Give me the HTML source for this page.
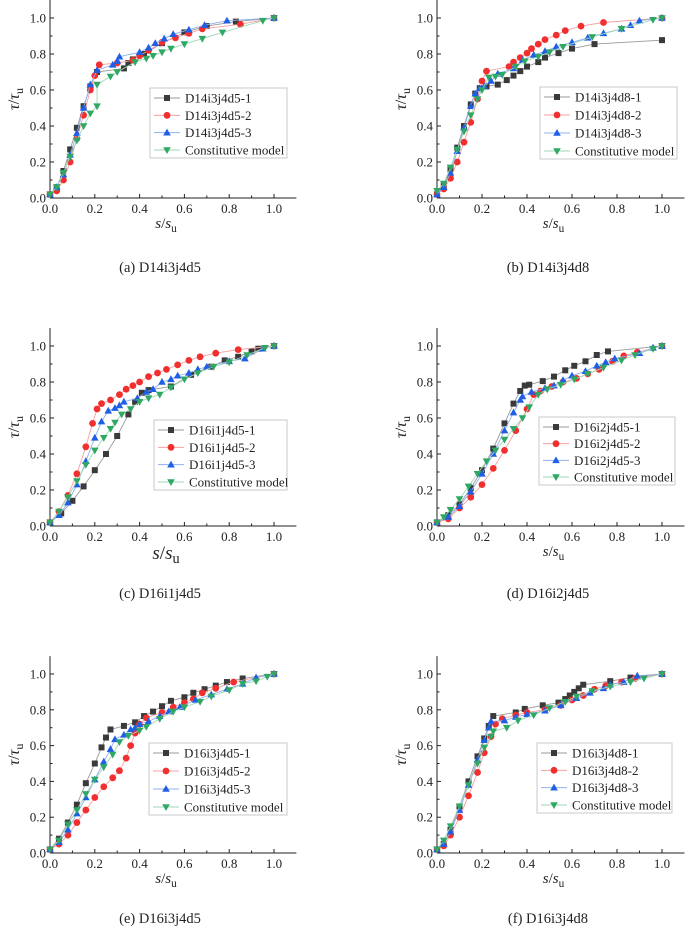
<!DOCTYPE html>
<html><head><meta charset="utf-8">
<style>
html,body{margin:0;padding:0;background:#fff;}
svg{display:block;}
svg text{font-family:"Liberation Serif","DejaVu Serif","Times New Roman",serif;}
</style></head>
<body>
<svg id="fig" width="685" height="935" viewBox="0 0 685 935" font-family="Liberation Serif, DejaVu Serif, serif"></svg>
<script>
// Panel (a)
const a1x=[0,0.03,0.06,0.09,0.12,0.15,0.18,0.21,0.33,0.35,0.37,0.42,0.5,0.6,0.7,0.83,1];
const a1y=[0.02,0.06,0.15,0.27,0.39,0.51,0.62,0.70,0.72,0.75,0.77,0.80,0.86,0.92,0.955,0.98,1];
const a2x=[0,0.03,0.06,0.09,0.12,0.15,0.18,0.2,0.22,0.3,0.37,0.4,0.44,0.5,0.56,0.62,0.68,0.85,1];
const a2y=[0.02,0.04,0.10,0.2,0.33,0.46,0.6,0.68,0.74,0.75,0.765,0.79,0.82,0.865,0.89,0.915,0.94,0.965,1];
const a3x=[0,0.03,0.06,0.09,0.12,0.15,0.18,0.21,0.28,0.3,0.31,0.4,0.44,0.47,0.51,0.55,0.62,0.69,0.79,1];
const a3y=[0.02,0.06,0.13,0.24,0.36,0.5,0.63,0.71,0.74,0.76,0.785,0.81,0.835,0.86,0.885,0.91,0.935,0.96,0.985,1];
const a4x=[0,0.03,0.06,0.09,0.12,0.15,0.18,0.21,0.21,0.27,0.3,0.38,0.43,0.46,0.5,0.54,0.6,0.68,0.77,0.95,1];
const a4y=[0.02,0.06,0.14,0.23,0.32,0.40,0.47,0.51,0.63,0.675,0.70,0.755,0.775,0.79,0.81,0.83,0.855,0.885,0.92,0.985,1];
// Panel (b)
const b1x=[0,0.03,0.06,0.09,0.12,0.15,0.17,0.19,0.22,0.27,0.31,0.34,0.37,0.4,0.45,0.48,0.54,0.6,0.7,1];
const b1y=[0.02,0.07,0.16,0.28,0.40,0.52,0.58,0.61,0.62,0.63,0.655,0.68,0.705,0.73,0.755,0.78,0.805,0.83,0.855,0.877];
const b2x=[0,0.03,0.06,0.09,0.12,0.15,0.18,0.2,0.22,0.32,0.34,0.37,0.4,0.42,0.45,0.48,0.53,0.57,0.64,0.74,1];
const b2y=[0.02,0.05,0.11,0.2,0.31,0.42,0.55,0.65,0.705,0.73,0.755,0.78,0.805,0.83,0.855,0.88,0.905,0.93,0.955,0.975,1];
const b3x=[0,0.03,0.06,0.09,0.12,0.15,0.17,0.19,0.21,0.24,0.27,0.34,0.38,0.43,0.48,0.53,0.6,0.67,0.74,0.82,0.86,0.9,1];
const b3y=[0.02,0.06,0.14,0.26,0.39,0.51,0.58,0.61,0.62,0.65,0.69,0.72,0.765,0.795,0.815,0.84,0.865,0.89,0.915,0.94,0.96,0.985,1];
const b4x=[0,0.03,0.06,0.09,0.12,0.15,0.18,0.2,0.23,0.26,0.29,0.35,0.39,0.45,0.5,0.56,0.69,0.82,0.96,1];
const b4y=[0.04,0.08,0.17,0.27,0.37,0.46,0.55,0.6,0.67,0.675,0.685,0.73,0.76,0.785,0.81,0.84,0.895,0.94,0.99,1];
// Panel (c)
const c1x=[0,0.05,0.1,0.15,0.2,0.25,0.3,0.35,0.38,0.41,0.44,0.54,0.63,0.72,0.78,0.84,0.9,0.93,1];
const c1y=[0.02,0.07,0.14,0.22,0.31,0.40,0.50,0.62,0.69,0.74,0.755,0.775,0.84,0.885,0.92,0.94,0.97,0.985,1];
const c2x=[0,0.04,0.08,0.12,0.16,0.19,0.21,0.23,0.27,0.31,0.34,0.37,0.4,0.44,0.48,0.52,0.57,0.62,0.67,0.74,0.84,1];
const c2y=[0.02,0.08,0.17,0.29,0.44,0.57,0.65,0.68,0.70,0.73,0.76,0.78,0.80,0.83,0.85,0.87,0.895,0.92,0.94,0.96,0.98,1];
const c3x=[0,0.04,0.08,0.12,0.16,0.2,0.23,0.26,0.29,0.31,0.33,0.39,0.43,0.46,0.5,0.54,0.57,0.62,0.66,0.7,0.8,0.87,0.95,1];
const c3y=[0.02,0.06,0.13,0.23,0.36,0.49,0.58,0.64,0.655,0.67,0.69,0.71,0.745,0.76,0.80,0.815,0.835,0.85,0.87,0.885,0.915,0.93,0.985,1];
const c4x=[0,0.04,0.08,0.12,0.16,0.2,0.24,0.27,0.29,0.32,0.36,0.4,0.44,0.49,0.54,0.6,0.66,0.73,0.8,0.88,0.96,1];
const c4y=[0.02,0.08,0.16,0.25,0.34,0.42,0.49,0.54,0.575,0.62,0.65,0.69,0.71,0.73,0.77,0.815,0.85,0.885,0.91,0.95,0.99,1];
// Panel (d)
const d1x=[0,0.05,0.1,0.15,0.2,0.25,0.3,0.34,0.37,0.39,0.41,0.47,0.52,0.57,0.61,0.66,0.71,0.76,1];
const d1y=[0.02,0.06,0.12,0.21,0.31,0.43,0.57,0.68,0.75,0.78,0.785,0.805,0.83,0.865,0.89,0.915,0.95,0.97,1];
const d2x=[0,0.05,0.1,0.15,0.2,0.25,0.3,0.35,0.4,0.43,0.46,0.51,0.56,0.62,0.67,0.72,0.78,0.83,0.89,1];
const d2y=[0.02,0.04,0.10,0.16,0.23,0.32,0.42,0.53,0.65,0.73,0.75,0.775,0.80,0.82,0.845,0.87,0.915,0.945,0.965,1];
const d3x=[0,0.05,0.1,0.15,0.2,0.25,0.3,0.34,0.37,0.38,0.42,0.48,0.52,0.56,0.6,0.66,0.71,0.75,0.79,0.9,0.96,1];
const d3y=[0.02,0.05,0.11,0.19,0.29,0.40,0.53,0.63,0.70,0.72,0.745,0.765,0.78,0.81,0.835,0.86,0.89,0.91,0.93,0.96,0.99,1];
const d4x=[0,0.03,0.06,0.1,0.14,0.18,0.22,0.26,0.3,0.34,0.38,0.41,0.45,0.49,0.55,0.61,0.67,0.74,0.82,0.88,0.96,1];
const d4y=[0.02,0.05,0.09,0.15,0.22,0.29,0.36,0.42,0.48,0.54,0.60,0.66,0.73,0.76,0.785,0.815,0.845,0.88,0.92,0.95,0.985,1];
// Panel (e)
const e1x=[0,0.04,0.08,0.12,0.16,0.2,0.23,0.25,0.27,0.33,0.38,0.42,0.46,0.5,0.54,0.6,0.64,0.69,0.74,0.79,0.86,1];
const e1y=[0.02,0.08,0.17,0.27,0.39,0.50,0.59,0.645,0.69,0.71,0.73,0.765,0.79,0.82,0.85,0.87,0.895,0.915,0.935,0.955,0.975,1];
const e2x=[0,0.04,0.08,0.12,0.16,0.2,0.24,0.28,0.31,0.34,0.36,0.38,0.4,0.43,0.5,0.55,0.6,0.64,0.68,0.74,0.82,1];
const e2y=[0.02,0.05,0.10,0.17,0.24,0.31,0.37,0.42,0.46,0.53,0.6,0.67,0.72,0.755,0.785,0.815,0.84,0.86,0.895,0.92,0.955,1];
const e3x=[0,0.04,0.08,0.12,0.16,0.2,0.24,0.27,0.29,0.33,0.36,0.38,0.4,0.44,0.49,0.53,0.58,0.65,0.72,0.79,0.86,0.92,1];
const e3y=[0.02,0.06,0.13,0.22,0.31,0.41,0.51,0.58,0.635,0.66,0.69,0.70,0.72,0.735,0.765,0.79,0.815,0.855,0.885,0.915,0.945,0.98,1];
const e4x=[0,0.04,0.08,0.12,0.16,0.2,0.24,0.28,0.31,0.35,0.4,0.43,0.49,0.55,0.6,0.67,0.72,0.8,0.86,0.92,0.97,1];
const e4y=[0.02,0.07,0.16,0.24,0.33,0.41,0.48,0.55,0.62,0.655,0.685,0.705,0.75,0.79,0.815,0.845,0.875,0.91,0.945,0.96,0.985,1];
// Panel (f)
const f1x=[0,0.03,0.06,0.1,0.14,0.18,0.21,0.23,0.25,0.35,0.39,0.47,0.54,0.57,0.59,0.61,0.63,0.65,0.77,0.86,1];
const f1y=[0.02,0.05,0.13,0.26,0.40,0.54,0.64,0.71,0.765,0.785,0.805,0.825,0.84,0.86,0.88,0.9,0.92,0.94,0.96,0.98,1];
const f2x=[0,0.03,0.06,0.1,0.14,0.18,0.21,0.24,0.26,0.29,0.35,0.4,0.48,0.55,0.6,0.65,0.7,0.75,0.82,0.88,1];
const f2y=[0.02,0.04,0.10,0.20,0.32,0.45,0.56,0.65,0.72,0.75,0.77,0.785,0.80,0.825,0.855,0.88,0.915,0.935,0.955,0.975,1];
const f3x=[0,0.03,0.06,0.1,0.14,0.18,0.21,0.23,0.24,0.3,0.35,0.4,0.48,0.55,0.62,0.68,0.74,0.77,0.83,0.89,1];
const f3y=[0.02,0.05,0.12,0.24,0.38,0.52,0.63,0.70,0.735,0.74,0.76,0.775,0.795,0.825,0.865,0.895,0.92,0.94,0.955,0.99,1];
const f4x=[0,0.03,0.06,0.1,0.14,0.18,0.21,0.24,0.25,0.31,0.36,0.43,0.5,0.57,0.62,0.69,0.77,0.86,0.92,1];
const f4y=[0.02,0.07,0.15,0.26,0.38,0.50,0.59,0.65,0.68,0.70,0.74,0.77,0.81,0.845,0.875,0.905,0.93,0.955,0.975,1];

const xTicks=[0,0.2,0.4,0.6,0.8,1.0];
const yTicks=[0,0.2,0.4,0.6,0.8,1.0];
const tickLabels=["0.0","0.2","0.4","0.6","0.8","1.0"];

const NS="http://www.w3.org/2000/svg";
const svg=document.getElementById('fig');
const FONT='"Liberation Serif", "DejaVu Serif", serif';
function mk(tag,attrs,parent){const e=document.createElementNS(NS,tag);for(const k in attrs)e.setAttribute(k,attrs[k]);if(tag==='text'){e.setAttribute('font-family',FONT);e.style.fontFamily=FONT;}(parent||svg).appendChild(e);return e;}

const colors=["#3a3a3a","#f22f2f","#1f5fe6","#2fa864"];
const lineColors=["#9a9a9a","#f7a0a0","#8fb0f0","#9fd8b4"];
const shapes=["square","circle","up","down"];

function marker(g,shape,x,y,c){
  let e;
  if(shape==="square")e=mk('rect',{x:x-3,y:y-3,width:6,height:6,fill:c},g);
  else if(shape==="circle")e=mk('circle',{cx:x,cy:y,r:3.4,fill:c},g);
  else if(shape==="up")e=mk('polygon',{points:`${x},${y-4} ${x-3.8},${y+2.8} ${x+3.8},${y+2.8}`,fill:c},g);
  else e=mk('polygon',{points:`${x},${y+4} ${x-3.8},${y-2.8} ${x+3.8},${y-2.8}`,fill:c},g);
  return e;
}

const panels=[
 {id:'a',cap:'(a) D14i3j4d5',x0:50,x1:274,y0:198,y1:18,cx:160,cy:272,lg:[150,88,137,70],names:["D14i3j4d5-1","D14i3j4d5-2","D14i3j4d5-3","Constitutive model"],xs:[a1x,a2x,a3x,a4x],ys:[a1y,a2y,a3y,a4y],xl:15},
 {id:'b',cap:'(b) D14i3j4d8',x0:437,x1:662,y0:198,y1:18,cx:548,cy:272,lg:[540,87,137,72],names:["D14i3j4d8-1","D14i3j4d8-2","D14i3j4d8-3","Constitutive model"],xs:[b1x,b2x,b3x,b4x],ys:[b1y,b2y,b3y,b4y],xl:15},
 {id:'c',cap:'(c) D16i1j4d5',x0:50,x1:274,y0:526,y1:346,cx:160,cy:598,lg:[154,420,133,70],names:["D16i1j4d5-1","D16i1j4d5-2","D16i1j4d5-3","Constitutive model"],xs:[c1x,c2x,c3x,c4x],ys:[c1y,c2y,c3y,c4y],xl:19},
 {id:'d',cap:'(d) D16i2j4d5',x0:437,x1:662,y0:526,y1:346,cx:548,cy:598,lg:[539,417,136,68],names:["D16i2j4d5-1","D16i2j4d5-2","D16i2j4d5-3","Constitutive model"],xs:[d1x,d2x,d3x,d4x],ys:[d1y,d2y,d3y,d4y],xl:15},
 {id:'e',cap:'(e) D16i3j4d5',x0:50,x1:274,y0:853,y1:674,cx:160,cy:923,lg:[149,743,138,72],names:["D16i3j4d5-1","D16i3j4d5-2","D16i3j4d5-3","Constitutive model"],xs:[e1x,e2x,e3x,e4x],ys:[e1y,e2y,e3y,e4y],xl:15},
 {id:'f',cap:'(f) D16i3j4d8',x0:437,x1:662,y0:853,y1:674,cx:548,cy:923,lg:[537,743,135,70],names:["D16i3j4d8-1","D16i3j4d8-2","D16i3j4d8-3","Constitutive model"],xs:[f1x,f2x,f3x,f4x],ys:[f1y,f2y,f3y,f4y],xl:15}
];

panels.forEach(p=>{
  const g=mk('g',{});
  
  
  const sx=v=>p.x0+v*(p.x1-p.x0);
  const sy=v=>p.y0+v*(p.y1-p.y0);
  const top=sy(1.1), right=sx(1.1);
  const ax=mk('g',{},g);
  
  
  mk('line',{x1:p.x0,y1:Math.max(top,p.y1-18),x2:p.x0,y2:p.y0,stroke:'#222','stroke-width':1},ax);
  mk('line',{x1:p.x0,y1:p.y0,x2:right,y2:p.y0,stroke:'#222','stroke-width':1},ax);
  for(let i=1;i<=10;i++){
    const v=i/10, maj=i%2===0;
    mk('line',{x1:sx(v),y1:p.y0,x2:sx(v),y2:p.y0-(maj?4:2.5),stroke:'#222','stroke-width':1},ax);
    mk('line',{x1:p.x0,y1:sy(v),x2:p.x0+(maj?4:2.5),y2:sy(v),stroke:'#222','stroke-width':1},ax);
  }
  xTicks.forEach((v,i)=>{
    const t=mk('text',{x:sx(v),y:p.y0+15,'font-size':13,'text-anchor':'middle',fill:'#222'},ax);
    t.textContent=tickLabels[i];
    
    
  });
  yTicks.forEach((v,i)=>{
    const t=mk('text',{x:p.x0-4,y:sy(v)+4.5,'font-size':13,'text-anchor':'end',fill:'#222'},ax);
    t.textContent=tickLabels[i];
    
    
  });
  const xt=mk('text',{x:(p.x0+p.x1)/2+4,y:p.y0+(p.xl>16?33:30),'font-size':p.xl,'text-anchor':'middle',fill:'#222'},ax);
  xt.innerHTML='<tspan font-style="italic">s</tspan>/<tspan font-style="italic">s</tspan><tspan font-size="'+(p.xl*0.75)+'" dy="4">u</tspan>';
  
  
  const yt=mk('text',{x:0,y:0,'font-size':16,'text-anchor':'middle',fill:'#222',transform:`translate(${p.x0-31},${sy(0.55)}) rotate(-90)`},ax);
  yt.innerHTML='<tspan font-style="italic">τ</tspan>/<tspan font-style="italic">τ</tspan><tspan font-size="12" dy="4">u</tspan>';
  
  

  for(let s=0;s<4;s++){
    const sg=mk('g',{},g);
    
    
    const xs=p.xs[s], ys=p.ys[s];
    const pts=xs.map((x,i)=>sx(x)+','+sy(ys[i])).join(' ');
    mk('polyline',{points:pts,fill:'none',stroke:lineColors[s],'stroke-width':0.9},sg);
    xs.forEach((x,i)=>{
      const m=marker(sg,shapes[s],sx(x),sy(ys[i]),colors[s]);
      
      
    });
  }
  const [lx,ly,lw,lh]=p.lg;
  const lg=mk('g',{},g);
  
  
  mk('rect',{x:lx,y:ly,width:lw,height:lh,fill:'#fff',stroke:'#c8c8c8','stroke-width':1},lg);
  for(let s=0;s<4;s++){
    const ey=ly+10+s*(lh-18)/3;
    const eg=mk('g',{},lg);
    
    
    mk('line',{x1:lx+4,y1:ey,x2:lx+30,y2:ey,stroke:lineColors[s],'stroke-width':1},eg);
    marker(eg,shapes[s],lx+17,ey,colors[s]);
    const t=mk('text',{x:lx+35,y:ey+4.5,'font-size':13,fill:'#222'},eg);
    t.textContent=p.names[s];
  }
  const cap=mk('text',{x:p.cx,y:p.cy,'font-size':14.5,'text-anchor':'middle',fill:'#222'},g);
  cap.textContent=p.cap;
  
  
});
</script>
</body></html>
